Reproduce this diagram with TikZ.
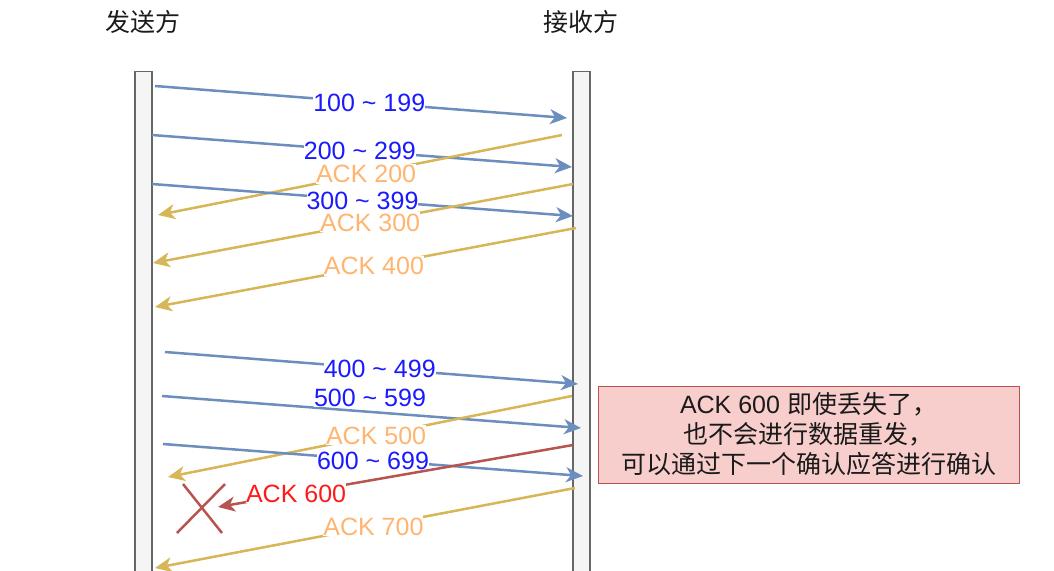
\documentclass[tikz,border=0pt]{standalone}
\usepackage{fontspec}
\setmainfont{Liberation Sans}
\newfontfamily\cjk{Noto Sans CJK SC}
\usetikzlibrary{arrows.meta}

\definecolor{seqblue}{HTML}{6C8EBF}
\definecolor{seqgold}{HTML}{D6B656}
\definecolor{seqred}{HTML}{B85450}
\definecolor{txtblue}{HTML}{1A1AFF}
\definecolor{txtorange}{HTML}{FFB570}
\definecolor{txtred}{HTML}{FF1A1A}
\definecolor{txtdark}{HTML}{1A1A1A}
\definecolor{notefill}{HTML}{F8CECC}
\definecolor{barfill}{HTML}{F5F5F5}
\definecolor{barline}{HTML}{666666}

\tikzset{
  bigfont/.style={font=\fontsize{25}{30}\selectfont},
  bar/.style={draw=barline, fill=barfill, line width=1.2pt,
    minimum width=17pt, minimum height=530pt, inner sep=0pt},
  party/.style={bigfont, text=txtdark, inner sep=0pt},
  tip/.style={-{Stealth[length=17pt,width=15pt,inset=5pt]}},
  data/.style={tip, draw=seqblue, line width=2.5pt},
  ack/.style={tip, draw=seqgold, line width=2.5pt},
  lostack/.style={tip, draw=seqred, line width=2.5pt},
  lbl/.style={bigfont, fill=white, inner xsep=0pt, inner ysep=0pt,
    text height=19pt, text depth=1pt},
  datalbl/.style={lbl, text=txtblue},
  acklbl/.style={lbl, text=txtorange},
  lostlbl/.style={lbl, text=txtred},
  cross/.style={draw=seqred, line width=2.5pt},
  note/.style={draw=seqred, fill=notefill, line width=1pt, bigfont,
    text=txtdark, align=center, minimum width=421pt, minimum height=97pt,
    inner sep=0pt}
}

\begin{document}
\begin{tikzpicture}[x=1pt,y=-1pt]
\useasboundingbox (0,0) rectangle (1054,570);
\clip (0,0) rectangle (1054,570);

% participants
\node[party] (sndname) at (143,22) {\cjk 发送方};
\node[party] (rcvname) at (581,22) {\cjk 接收方};

% lifelines
\node[bar, anchor=north] (snd) at (143.5,71) {};
\node[bar, anchor=north] (rcv) at (581.5,71) {};

% end points of the messages
\coordinate (d1s) at (155,86);  \coordinate (d1r) at (567,118);
\coordinate (d2s) at (152,135); \coordinate (d2r) at (572,167);
\coordinate (a2r) at (562,135); \coordinate (a2s) at (158,215);
\coordinate (d3s) at (152,184); \coordinate (d3r) at (573,216);
\coordinate (a3r) at (573,184); \coordinate (a3s) at (153,263);
\coordinate (a4r) at (576,228); \coordinate (a4s) at (155,307);
\coordinate (d4s) at (165,352); \coordinate (d4r) at (578,384);
\coordinate (d5s) at (162,396); \coordinate (d5r) at (581,428);
\coordinate (a5r) at (572,396); \coordinate (a5s) at (168,477);
\coordinate (d6s) at (163,444); \coordinate (d6r) at (583,476);
\coordinate (a6r) at (573,445); \coordinate (a6s) at (218,507);
\coordinate (a7r) at (575,488); \coordinate (a7s) at (155,568);

% first round
\draw[data] (d1s) -- node[datalbl, pos=0.52] (l1) {100 \textasciitilde{} 199} (d1r);
\draw[data] (d2s) -- node[datalbl, pos=0.495] (l2) {200 \textasciitilde{} 299} (d2r);
\draw[ack]  (a2r) -- node[acklbl, pos=0.485] (k2) {ACK 200} (a2s);
\draw[data] (d3s) -- node[datalbl, pos=0.5] (l3) {300 \textasciitilde{} 399} (d3r);
\draw[ack]  (a3r) -- node[acklbl, pos=0.483] (k3) {ACK 300} (a3s);
\draw[ack]  (a4r) -- node[acklbl, pos=0.48] (k4) {ACK 400} (a4s);

% second round
\draw[data] (d4s) -- node[datalbl, pos=0.52] (l4) {400 \textasciitilde{} 499} (d4r);
\draw[data] (d5s) -- (d5r);
\node[datalbl] (l5) at (370,397) {500 \textasciitilde{} 599};
\draw[ack]  (a5r) -- node[acklbl, pos=0.485] (k5) {ACK 500} (a5s);
\draw[data] (d6s) -- node[datalbl, pos=0.5] (l6) {600 \textasciitilde{} 699} (d6r);
\draw[lostack] (a6r) -- node[lostlbl, pos=0.78] (k6) {ACK 600} (a6s);
\draw[ack]  (a7r) -- node[acklbl, pos=0.48] (k7) {ACK 700} (a7s);

% lost acknowledgement
\coordinate (xa) at (183,484); \coordinate (xb) at (222,533);
\coordinate (xc) at (225,484); \coordinate (xd) at (177,533);
\draw[cross] (xa) -- (xb);
\draw[cross] (xc) -- (xd);

% explanation
\node[note] (expl) at (808.5,434.5)
  {ACK 600 {\cjk 即使丢失了，}\\[0pt]
   {\cjk 也不会进行数据重发，}\\[0pt]
   {\cjk 可以通过下一个确认应答进行确认}};
\end{tikzpicture}
\end{document}
